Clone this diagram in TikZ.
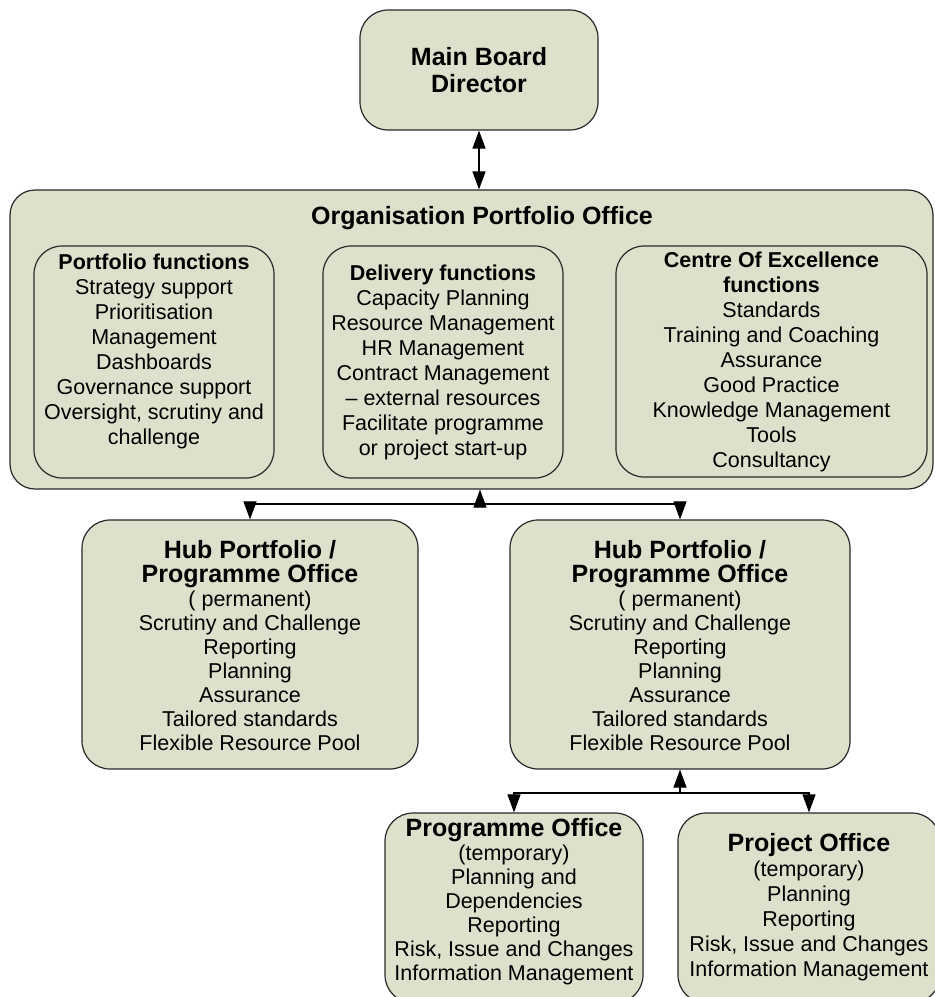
\documentclass[tikz,border=0pt]{standalone}
\usepackage{fontspec}
\setmainfont{Liberation Sans}
\usetikzlibrary{arrows.meta}
\definecolor{boxfill}{RGB}{221,224,203}
\definecolor{boxline}{RGB}{40,40,40}
\newcommand\bigttl[1]{{\fontsize{25}{25}\selectfont\bfseries #1}}
\begin{document}
\begin{tikzpicture}[x=1pt,y=-1pt,
  box/.style={draw=boxline, fill=boxfill, line width=1.2pt, rounded corners=28pt, inner sep=0pt},
  txt/.style={align=center, font=\fontsize{21.5}{25}\selectfont, inner sep=0pt},
  hubtxt/.style={align=center, font=\fontsize{21.5}{24}\selectfont, inner sep=0pt},
  arr/.style={-{Triangle[length=18pt,width=13pt]}, line width=1.1pt, draw=black},
  darr/.style={{Triangle[length=18pt,width=13pt]}-{Triangle[length=18pt,width=13pt]}, line width=1.3pt, draw=black},
]
\useasboundingbox (0,0) rectangle (935,997);
\clip (0,0) rectangle (935,997);

% boxes
\node[box, minimum width=238pt, minimum height=120pt] (mbd) at (479,70) {};
\node[box, rounded corners=25pt, minimum width=923pt, minimum height=299pt] (org) at (471.5,339.5) {};
\node[box, minimum width=240pt, minimum height=232pt] (pf) at (154,362) {};
\node[box, minimum width=240pt, minimum height=232pt] (df) at (443,362) {};
\node[box, minimum width=311pt, minimum height=231pt] (cf) at (771.5,361.5) {};
\node[box, minimum width=336pt, minimum height=249pt] (hubL) at (250,644.5) {};
\node[box, minimum width=340pt, minimum height=249pt] (hubR) at (680,644.5) {};
\node[box, minimum width=258pt, minimum height=190pt] (prog) at (514,908) {};
\node[box, minimum width=262pt, minimum height=190pt] (proj) at (809,908) {};

% texts
\node[txt, font=\fontsize{25}{26.5}\selectfont\bfseries] (tmbd) at (479,70) {Main Board\\Director};
\node[txt, font=\fontsize{25}{30}\selectfont\bfseries] (torg) at (482,218) {Organisation Portfolio Office};
\node[txt] (tpf) at (154,351) {\textbf{Portfolio functions}\\Strategy support\\Prioritisation\\Management\\Dashboards\\Governance support\\Oversight, scrutiny and\\challenge};
\node[txt] (tdf) at (443,362) {\textbf{Delivery functions}\\Capacity Planning\\Resource Management\\HR Management\\Contract Management\\– external resources\\Facilitate programme\\or project start-up};
\node[txt] (tcf) at (771.5,361.5) {\textbf{Centre Of Excellence}\\\textbf{functions}\\Standards\\Training and Coaching\\Assurance\\Good Practice\\Knowledge Management\\Tools\\Consultancy};
\node[hubtxt] (thubL) at (250,645.5) {\bigttl{Hub Portfolio /}\\\bigttl{Programme Office}\\( permanent)\\Scrutiny and Challenge\\Reporting\\Planning\\Assurance\\Tailored standards\\Flexible Resource Pool};
\node[hubtxt] (thubR) at (680,645.5) {\bigttl{Hub Portfolio /}\\\bigttl{Programme Office}\\( permanent)\\Scrutiny and Challenge\\Reporting\\Planning\\Assurance\\Tailored standards\\Flexible Resource Pool};
\node[hubtxt] (tprog) at (514,901.5) {\bigttl{Programme Office}\\(temporary)\\Planning and\\Dependencies\\Reporting\\Risk, Issue and Changes\\Information Management};
\node[txt] (tproj) at (809,907.5) {\bigttl{Project Office}\\(temporary)\\Planning\\Reporting\\Risk, Issue and Changes\\Information Management};

% connectors
\draw[darr] (mbd.south) -- (mbd.south |- org.north);
\coordinate (j1) at (480,504);
\draw[arr] (j1) -- (j1 |- org.south);
\draw[arr] (j1) -| (hubL.north);
\draw[arr] (j1) -| (hubR.north);
\coordinate (j2) at (680,793);
\draw[arr] (j2) -- (hubR.south);
\draw[arr] (j2) -| (prog.north);
\draw[arr] (j2) -| (proj.north);
\end{tikzpicture}
\end{document}
